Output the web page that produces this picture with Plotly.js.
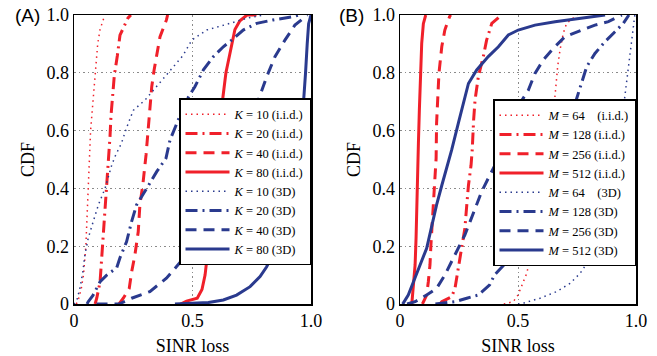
<!DOCTYPE html>
<html>
<head>
<meta charset="utf-8">
<script src="https://cdn.plot.ly/plotly-3.0.1.min.js"></script>
<style>html,body{margin:0;padding:0;background:#fff;}#chart{width:657px;height:356px;}</style>
</head>
<body>
<div id="chart"></div>
<script>
// ---------- Panel A data (SINR loss x, CDF y) ----------
const a_k10_iid_y = [0, 0.02, 0.05, 0.1, 0.2, 0.3, 0.4, 0.5, 0.6, 0.7, 0.81, 0.9, 0.95, 1.0];
const a_k10_iid_x = [0.01, 0.02, 0.03, 0.04, 0.05, 0.055, 0.06, 0.065, 0.07, 0.08, 0.09, 0.1, 0.11, 0.13];

const a_k20_iid_y = [0, 0.02, 0.077, 0.159, 0.239, 0.343, 0.436, 0.505, 0.58, 0.65, 0.72, 0.79, 0.86, 0.93, 0.99, 1.0];
const a_k20_iid_x = [0.089, 0.096, 0.11, 0.117, 0.124, 0.131, 0.14, 0.148, 0.152, 0.156, 0.163, 0.17, 0.183, 0.194, 0.228, 0.24];

const a_k40_iid_y = [0, 0.02, 0.054, 0.11, 0.17, 0.25, 0.343, 0.41, 0.516, 0.579, 0.637, 0.694, 0.752, 0.81, 0.867, 0.925, 0.983, 1.0];
const a_k40_iid_x = [0.19, 0.208, 0.233, 0.243, 0.257, 0.271, 0.278, 0.29, 0.304, 0.311, 0.316, 0.321, 0.328, 0.338, 0.349, 0.363, 0.39, 0.395];

const a_k80_iid_y = [0, 0.01, 0.02, 0.05, 0.1, 0.2, 0.3, 0.4, 0.5, 0.6, 0.7, 0.8, 0.9, 0.95, 0.98, 1.0, 1.0];
const a_k80_iid_x = [0.45, 0.475, 0.52, 0.54, 0.553, 0.567, 0.585, 0.598, 0.608, 0.617, 0.626, 0.641, 0.665, 0.679, 0.70, 0.73, 0.77];

const a_k10_3d_y = [0, 0.01, 0.055, 0.11, 0.17, 0.228, 0.285, 0.343, 0.40, 0.48, 0.51, 0.556, 0.61, 0.67, 0.706, 0.76, 0.81, 0.86, 0.913, 0.948, 0.971, 0.989, 1.0];
const a_k10_3d_x = [0.0, 0.011, 0.025, 0.037, 0.046, 0.06, 0.081, 0.103, 0.131, 0.159, 0.173, 0.20, 0.222, 0.25, 0.30, 0.357, 0.41, 0.46, 0.497, 0.56, 0.658, 0.73, 0.80];

const a_k20_3d_y = [0, 0.008, 0.03, 0.077, 0.10, 0.125, 0.16, 0.216, 0.285, 0.343, 0.40, 0.458, 0.504, 0.567, 0.637, 0.706, 0.752, 0.81, 0.856, 0.89, 0.913, 0.948, 0.971, 0.983, 0.994, 1.0];
const a_k20_3d_x = [0.055, 0.06, 0.08, 0.11, 0.138, 0.18, 0.194, 0.222, 0.243, 0.264, 0.307, 0.349, 0.388, 0.405, 0.44, 0.475, 0.51, 0.546, 0.588, 0.63, 0.665, 0.714, 0.771, 0.84, 0.925, 0.95];

const a_k40_3d_y = [0, 0, 0.02, 0.043, 0.089, 0.135, 0.17, 0.3, 0.4, 0.5, 0.6, 0.706, 0.786, 0.856, 0.913, 0.965, 0.994, 1.0];
const a_k40_3d_x = [0.095, 0.19, 0.243, 0.32, 0.39, 0.44, 0.475, 0.55, 0.62, 0.67, 0.72, 0.778, 0.813, 0.848, 0.89, 0.932, 0.975, 0.985];

const a_k80_3d_y = [0, 0.005, 0.014, 0.031, 0.06, 0.095, 0.129, 0.175, 0.2, 0.25, 0.3, 0.4, 0.5, 0.6, 0.7, 0.8, 0.9, 0.97, 1.0];
const a_k80_3d_x = [0.426, 0.567, 0.63, 0.686, 0.743, 0.785, 0.813, 0.841, 0.855, 0.88, 0.90, 0.93, 0.95, 0.96, 0.97, 0.977, 0.984, 0.99, 1.0];

// ---------- Panel B data ----------
const b_m64_iid_y = [0, 0.008, 0.031, 0.073, 0.106, 0.152, 0.2, 0.3, 0.4, 0.5, 0.6, 0.694, 0.763, 0.821, 0.879, 0.937, 0.971, 0.994, 1.0];
const b_m64_iid_x = [0.44, 0.48, 0.50, 0.522, 0.537, 0.55, 0.565, 0.59, 0.61, 0.625, 0.637, 0.654, 0.66, 0.668, 0.678, 0.692, 0.706, 0.739, 0.75];

const b_m128_iid_y = [0, 0.008, 0.025, 0.054, 0.124, 0.193, 0.262, 0.343, 0.41, 0.48, 0.533, 0.637, 0.706, 0.787, 0.856, 0.913, 0.971, 1.0];
const b_m128_iid_x = [0.17, 0.177, 0.219, 0.233, 0.247, 0.261, 0.275, 0.283, 0.29, 0.301, 0.306, 0.312, 0.318, 0.332, 0.353, 0.367, 0.389, 0.43];

const b_m256_iid_y = [0, 0.008, 0.031, 0.077, 0.135, 0.204, 0.285, 0.366, 0.446, 0.504, 0.625, 0.706, 0.798, 0.89, 0.948, 0.994, 1.0];
const b_m256_iid_x = [0.095, 0.099, 0.113, 0.12, 0.127, 0.131, 0.137, 0.144, 0.148, 0.153, 0.155, 0.16, 0.165, 0.177, 0.19, 0.21, 0.215];

const b_m512_iid_y = [0, 0.054, 0.135, 0.227, 0.343, 0.458, 0.556, 0.67, 0.787, 0.902, 0.97, 1.0];
const b_m512_iid_x = [0.05, 0.056, 0.064, 0.068, 0.071, 0.073, 0.078, 0.082, 0.088, 0.092, 0.099, 0.109];

const b_m64_3d_y = [0, 0.003, 0.02, 0.043, 0.071, 0.106, 0.14, 0.2, 0.3, 0.4, 0.5, 0.6, 0.7, 0.8, 0.9, 1.0];
const b_m64_3d_x = [0.50, 0.523, 0.593, 0.664, 0.72, 0.763, 0.791, 0.83, 0.87, 0.90, 0.92, 0.935, 0.95, 0.965, 0.98, 0.995];

const b_m128_3d_y = [0, 0.008, 0.02, 0.031, 0.066, 0.1, 0.135, 0.2, 0.3, 0.4, 0.5, 0.6, 0.694, 0.752, 0.821, 0.867, 0.908, 0.942, 0.971, 1.0];
const b_m128_3d_x = [0.15, 0.233, 0.283, 0.332, 0.38, 0.40, 0.44, 0.51, 0.60, 0.66, 0.69, 0.715, 0.742, 0.763, 0.791, 0.826, 0.869, 0.911, 0.946, 0.97];

const b_m256_3d_y = [0, 0.008, 0.031, 0.054, 0.10, 0.158, 0.204, 0.239, 0.285, 0.331, 0.389, 0.435, 0.481, 0.55, 0.6, 0.65, 0.694, 0.74, 0.798, 0.844, 0.885, 0.925, 0.948, 0.965, 0.977, 0.994, 1.0];
const b_m256_3d_x = [0.03, 0.064, 0.113, 0.155, 0.19, 0.226, 0.254, 0.275, 0.297, 0.318, 0.346, 0.374, 0.403, 0.43, 0.455, 0.48, 0.508, 0.544, 0.572, 0.607, 0.65, 0.699, 0.77, 0.826, 0.883, 0.925, 0.94];

const b_m512_3d_y = [0, 0.003, 0.031, 0.077, 0.135, 0.193, 0.273, 0.343, 0.41, 0.47, 0.533, 0.625, 0.694, 0.763, 0.81, 0.856, 0.89, 0.931, 0.948, 0.965, 0.977, 0.989, 1.0];
const b_m512_3d_x = [0.01, 0.014, 0.035, 0.056, 0.085, 0.113, 0.134, 0.155, 0.177, 0.198, 0.219, 0.247, 0.268, 0.29, 0.325, 0.374, 0.417, 0.459, 0.501, 0.572, 0.657, 0.77, 0.869];

// ---------- Legend labels ----------
const labelsA = ['<i>K</i> = 10 (i.i.d.)', '<i>K</i> = 20 (i.i.d.)', '<i>K</i> = 40 (i.i.d.)', '<i>K</i> = 80 (i.i.d.)',
                 '<i>K</i> = 10 (3D)', '<i>K</i> = 20 (3D)', '<i>K</i> = 40 (3D)', '<i>K</i> = 80 (3D)'];
const labelsB = ['<i>M</i> = 64 &nbsp;&nbsp; (i.i.d.)', '<i>M</i> = 128 (i.i.d.)', '<i>M</i> = 256 (i.i.d.)', '<i>M</i> = 512 (i.i.d.)',
                 '<i>M</i> = 64 &nbsp;&nbsp; (3D)', '<i>M</i> = 128 (3D)', '<i>M</i> = 256 (3D)', '<i>M</i> = 512 (3D)'];

const xTickVals = [0, 0.5, 1];
const xTickText = ['0', '0.5', '1.0'];
const yTickVals = [0, 0.2, 0.4, 0.6, 0.8, 1.0];
const yTickText = ['0', '0.2', '0.4', '0.6', '0.8', '1.0'];

// ---------- Styles ----------
const RED = '#f0202a';
const BLUE = '#2a3a8e';
const styles = [
  {color: RED, width: 1.5, dash: '1.5px,4px'},
  {color: RED, width: 3, dash: '12px,5px,2px,5px'},
  {color: RED, width: 3, dash: '11px,7px'},
  {color: RED, width: 3, dash: 'solid'},
  {color: BLUE, width: 1.5, dash: '1.5px,4px'},
  {color: BLUE, width: 3, dash: '12px,5px,2px,5px'},
  {color: BLUE, width: 3, dash: '11px,7px'},
  {color: BLUE, width: 3, dash: 'solid'}
];

const seriesA = [[a_k10_iid_x, a_k10_iid_y], [a_k20_iid_x, a_k20_iid_y], [a_k40_iid_x, a_k40_iid_y], [a_k80_iid_x, a_k80_iid_y],
                 [a_k10_3d_x, a_k10_3d_y], [a_k20_3d_x, a_k20_3d_y], [a_k40_3d_x, a_k40_3d_y], [a_k80_3d_x, a_k80_3d_y]];
const seriesB = [[b_m64_iid_x, b_m64_iid_y], [b_m128_iid_x, b_m128_iid_y], [b_m256_iid_x, b_m256_iid_y], [b_m512_iid_x, b_m512_iid_y],
                 [b_m64_3d_x, b_m64_3d_y], [b_m128_3d_x, b_m128_3d_y], [b_m256_3d_x, b_m256_3d_y], [b_m512_3d_x, b_m512_3d_y]];

const traces = [];
seriesA.forEach((s, i) => traces.push({
  x: s[0], y: s[1], type: 'scatter', mode: 'lines', name: labelsA[i],
  xaxis: 'x', yaxis: 'y', legend: 'legend', line: styles[i], hoverinfo: 'skip'
}));
seriesB.forEach((s, i) => traces.push({
  x: s[0], y: s[1], type: 'scatter', mode: 'lines', name: labelsB[i],
  xaxis: 'x2', yaxis: 'y2', legend: 'legend2', line: styles[i], hoverinfo: 'skip'
}));

const W = 657, H = 356;
const serif = 'Liberation Serif';
function xax(dom, anchor) {
  return {domain: dom, anchor: anchor, range: [0, 1], tickvals: xTickVals, ticktext: xTickText,
    showline: true, mirror: true, linecolor: '#000', linewidth: 1.5, ticks: '', zeroline: false,
    showgrid: true, gridcolor: '#8a8a8a', gridwidth: 1, griddash: '1.5px,3px',
    tickfont: {family: serif, size: 18, color: '#000'},
    title: {text: 'SINR loss', font: {family: serif, size: 18, color: '#000'}, standoff: 14},
    automargin: false, fixedrange: true};
}
function yax(anchor) {
  return {domain: [52 / H, 341 / H], anchor: anchor, range: [0, 1], tickvals: yTickVals, ticktext: yTickText,
    showline: true, mirror: true, linecolor: '#000', linewidth: 1.5, ticks: '', zeroline: false,
    showgrid: true, gridcolor: '#8a8a8a', gridwidth: 1, griddash: '1.5px,3px',
    tickfont: {family: serif, size: 18, color: '#000'},
    title: {text: 'CDF', font: {family: serif, size: 18, color: '#000'}, standoff: 7},
    automargin: false, fixedrange: true};
}
const legendBase = {bgcolor: '#fff', bordercolor: '#000', borderwidth: 1.5, itemwidth: 44,
  font: {family: serif, size: 12.5, color: '#000'}, xanchor: 'right', yanchor: 'top', tracegroupgap: 0};

const layout = {
  width: W, height: H,
  margin: {l: 0, r: 0, t: 0, b: 0},
  paper_bgcolor: '#fff', plot_bgcolor: '#fff',
  showlegend: true,
  xaxis: xax([74 / W, 311 / W], 'y'),
  yaxis: yax('x'),
  xaxis2: xax([400 / W, 636 / W], 'y2'),
  yaxis2: yax('x2'),
  legend: Object.assign({}, legendBase, {x: 311 / W, y: (H - 98) / H}),
  legend2: Object.assign({}, legendBase, {x: 636 / W, y: (H - 99) / H}),
  annotations: [
    {text: '(A)', xref: 'paper', yref: 'paper', x: 27 / W, y: (H - 15) / H, xanchor: 'center', yanchor: 'middle',
     showarrow: false, font: {family: 'Liberation Sans', size: 19, color: '#000'}},
    {text: '(B)', xref: 'paper', yref: 'paper', x: 351 / W, y: (H - 15) / H, xanchor: 'center', yanchor: 'middle',
     showarrow: false, font: {family: 'Liberation Sans', size: 19, color: '#000'}}
  ]
};

Plotly.newPlot('chart', traces, layout, {staticPlot: true, displayModeBar: false});
</script>
</body>
</html>
